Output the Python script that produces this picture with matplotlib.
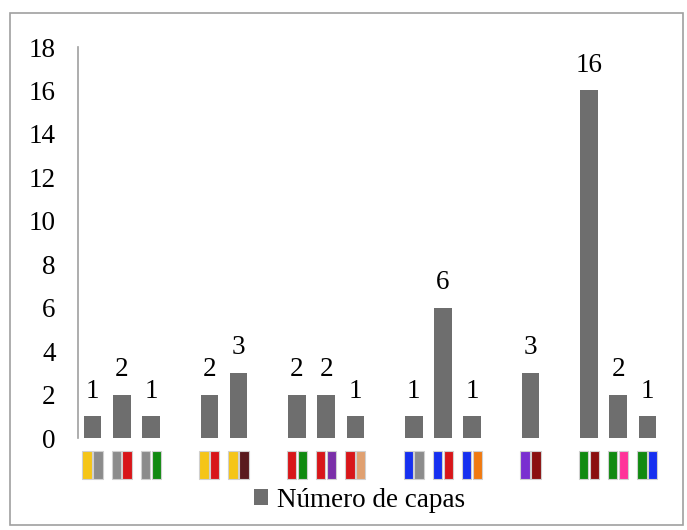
import numpy as np
import matplotlib.pyplot as plt
from matplotlib.patches import Rectangle
from matplotlib.transforms import blended_transform_factory

# each category is drawn as a pair of colour swatches; None = empty slot
left_colors = ["#f5c518", "#8c8c8c", "#8c8c8c", None, "#f5c518", "#f5c518", None,
               "#d8161a", "#d8161a", "#d8161a", None, "#1630f0", "#1630f0", "#1630f0", None,
               "#7a2fd0", None, "#118a11", "#118a11", "#118a11"]
right_colors = ["#8c8c8c", "#d8161a", "#118a11", None, "#d8161a", "#5a1a1e", None,
                "#118a11", "#7a2fa8", "#e0a070", None, "#8c8c8c", "#d8161a", "#f07a10", None,
                "#8b1010", None, "#8b1010", "#ff3399", "#1630f0"]
capas = [1, 2, 1, None, 2, 3, None, 2, 2, 1, None, 1, 6, 1, None, 3, None, 16, 2, 1]
ticks_y = [0, 2, 4, 6, 8, 10, 12, 14, 16, 18]

plt.rcParams['font.family'] = ['Liberation Serif', 'DejaVu Serif']
FS = 19.5

fig = plt.figure(figsize=(6.87, 5.30), dpi=100)
ax = fig.add_axes([78 / 687, 92 / 530, 584 / 687, 391 / 530])

xs = [i for i, v in enumerate(capas) if v is not None]
vals = [v for v in capas if v is not None]
bars = ax.bar(xs, vals, width=0.6, color="#6e6e6e", label="Número de capas")
ax.bar_label(bars, labels=[str(v) for v in vals], padding=9, fontsize=FS)

ax.set_xlim(-0.5, len(capas) - 0.5)
ax.set_ylim(0, 18)
ax.set_yticks(ticks_y)
ax.set_xticks([])
ax.tick_params(axis='y', length=0, pad=16, labelsize=FS)
for s in ['top', 'right', 'bottom']:
    ax.spines[s].set_visible(False)
ax.spines['left'].set_color("#a0a0a0")
ax.spines['left'].set_linewidth(1.2)

# colour swatches instead of text labels
trans = blended_transform_factory(ax.transData, ax.transAxes)
for i, (cl, cr) in enumerate(zip(left_colors, right_colors)):
    if cl is None:
        continue
    for x0, c in ((i - 0.35, cl), (i + 0.02, cr)):
        ax.add_patch(Rectangle((x0, -0.104), 0.32, 0.07, transform=trans,
                               facecolor=c, edgecolor="#d0d0d0", lw=0.8,
                               clip_on=False))

fig.legend(loc='center', bbox_to_anchor=(0.524, 0.056), frameon=False,
           fontsize=FS, handlelength=0.5, handleheight=0.5, handletextpad=0.35)

fig.patches.append(Rectangle((10 / 687, 5 / 530), 673 / 687, 512 / 530,
                             transform=fig.transFigure, fill=False,
                             edgecolor="#a0a0a0", lw=1.2))

fig.savefig("out.png", dpi=100)
